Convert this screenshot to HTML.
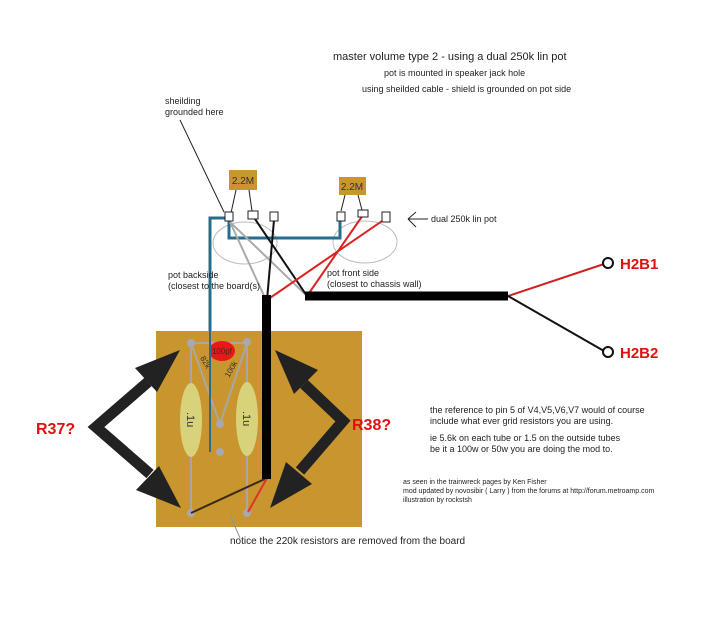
<!DOCTYPE html>
<html><head><style>
html,body{margin:0;padding:0;background:#fff;}
svg{display:block;font-family:"Liberation Sans",sans-serif;}
</style></head><body>
<svg width="714" height="624" viewBox="0 0 714 624" xmlns="http://www.w3.org/2000/svg">
<rect width="714" height="624" fill="#fff"/>
<text x="333" y="60" font-size="11" fill="#222">master volume type 2 - using a dual 250k lin pot</text>
<text x="384" y="76" font-size="9" fill="#222">pot is mounted in speaker jack hole</text>
<text x="362" y="92" font-size="9" fill="#222">using sheilded cable - shield is grounded on pot side</text>
<text x="165" y="104" font-size="9" fill="#222">sheilding</text>
<text x="165" y="115" font-size="9" fill="#222">grounded here</text>
<line x1="180" y1="120" x2="224" y2="212" stroke="#222" stroke-width="1"/>
<ellipse cx="245" cy="243" rx="32" ry="21" fill="none" stroke="#bbb" stroke-width="1"/>
<ellipse cx="365" cy="242" rx="32" ry="21" fill="none" stroke="#bbb" stroke-width="1"/>
<rect x="229" y="170" width="28" height="20" fill="#c9952f"/>
<text x="243" y="184" font-size="10" fill="#333" text-anchor="middle">2.2M</text>
<rect x="339" y="177" width="27" height="18" fill="#c9952f"/>
<text x="352" y="190" font-size="10" fill="#333" text-anchor="middle">2.2M</text>
<line x1="236" y1="190" x2="231" y2="213" stroke="#222"/>
<line x1="249" y1="190" x2="252" y2="211" stroke="#222"/>
<line x1="345" y1="195" x2="341" y2="211" stroke="#222"/>
<line x1="358" y1="195" x2="362" y2="210" stroke="#222"/>
<polyline points="210,452 210,218 229,218" fill="none" stroke="#2a6b8a" stroke-width="3"/>
<polyline points="229,219 229,238 340,238 340,220" fill="none" stroke="#2a6b8a" stroke-width="3"/>
<line x1="210" y1="452" x2="220" y2="452" stroke="#2a6b8a" stroke-width="2"/>
<line x1="230" y1="222" x2="307" y2="296" stroke="#aaa" stroke-width="2"/>
<line x1="230" y1="222" x2="266" y2="300" stroke="#aaa" stroke-width="2"/>
<line x1="253" y1="216" x2="307" y2="296" stroke="#111" stroke-width="2"/>
<line x1="274" y1="220" x2="267" y2="300" stroke="#111" stroke-width="2"/>
<line x1="363" y1="215" x2="307" y2="296" stroke="#d22" stroke-width="2"/>
<line x1="385" y1="219" x2="267" y2="300" stroke="#d22" stroke-width="2"/>
<g fill="#fff" stroke="#222" stroke-width="1">
<rect x="225" y="212" width="8" height="9"/><rect x="248" y="211" width="10" height="8"/><rect x="270" y="212" width="8" height="9"/>
<rect x="337" y="212" width="8" height="9"/><rect x="358" y="210" width="10" height="7"/><rect x="382" y="212" width="8" height="10"/>
</g>
<line x1="408" y1="219" x2="428" y2="219" stroke="#222"/>
<line x1="408" y1="219" x2="416" y2="212" stroke="#222"/>
<line x1="408" y1="219" x2="416" y2="227" stroke="#222"/>
<text x="431" y="222" font-size="9" fill="#222">dual 250k lin pot</text>
<text x="168" y="278" font-size="9" fill="#222">pot backside</text>
<text x="168" y="289" font-size="9" fill="#222">(closest to the board(s)</text>
<text x="327" y="276" font-size="9" fill="#222">pot front side</text>
<text x="327" y="287" font-size="9" fill="#222">(closest to chassis wall)</text>
<rect x="156" y="331" width="206" height="196" fill="#c9952f"/>
<line x1="191" y1="343" x2="191" y2="513" stroke="#a8a8a0" stroke-width="2"/>
<line x1="247" y1="343" x2="247" y2="513" stroke="#a8a8a0" stroke-width="2"/>
<line x1="191" y1="343" x2="220" y2="424" stroke="#a8a8a0" stroke-width="2"/>
<line x1="247" y1="343" x2="220" y2="424" stroke="#a8a8a0" stroke-width="2"/>
<line x1="191" y1="343" x2="247" y2="343" stroke="#a8a8a0" stroke-width="2"/>
<ellipse cx="191" cy="420" rx="11" ry="37" fill="#d8d27a"/>
<ellipse cx="247" cy="419" rx="11" ry="37" fill="#d8d27a"/>
<text x="0" y="0" font-size="11" fill="#333" transform="translate(187,412) rotate(90)">.1u</text>
<text x="0" y="0" font-size="11" fill="#333" transform="translate(243,411) rotate(90)">.1u</text>
<ellipse cx="222" cy="351" rx="13" ry="10" fill="#e81818"/>
<text x="222" y="354" font-size="8" fill="#522" text-anchor="middle">100pf</text>
<text x="0" y="0" font-size="8" fill="#333" transform="translate(200,358) rotate(60)">82k</text>
<text x="0" y="0" font-size="8" fill="#333" transform="translate(229,378) rotate(-60)">100k</text>
<line x1="210" y1="322" x2="210" y2="452" stroke="#2a6b8a" stroke-width="2"/>
<g fill="#a8a8b0"><circle cx="191" cy="343" r="4"/><circle cx="247" cy="342" r="4"/><circle cx="220" cy="424" r="4"/><circle cx="220" cy="452" r="4"/><circle cx="191" cy="513" r="4"/><circle cx="247" cy="513" r="4"/></g>
<line x1="191" y1="513" x2="267" y2="478" stroke="#3a2a10" stroke-width="2"/>
<line x1="248" y1="512" x2="267" y2="478" stroke="#d33" stroke-width="2"/>
<rect x="262" y="295" width="9" height="184" fill="#000"/>
<line x1="305" y1="296" x2="508" y2="296" stroke="#000" stroke-width="9"/>
<line x1="508" y1="296" x2="604" y2="264" stroke="#c22" stroke-width="2"/>
<line x1="508" y1="296" x2="604" y2="351" stroke="#111" stroke-width="2"/>
<circle cx="608" cy="263" r="5" fill="#fff" stroke="#111" stroke-width="2"/>
<circle cx="608" cy="352" r="5" fill="#fff" stroke="#111" stroke-width="2"/>
<text x="620" y="269" font-size="15" font-weight="bold" fill="#e01010">H2B1</text>
<text x="620" y="358" font-size="15" font-weight="bold" fill="#e01010">H2B2</text>
<g stroke="#222" stroke-width="11" fill="none" stroke-linejoin="miter">
<polyline points="148,382 96,427 150,474"/>
<polyline points="304,384 343,421 300,471"/>
</g>
<g fill="#222">
<polygon points="180,350 157,392 135,368"/>
<polygon points="181,508 159,466 136,490"/>
<polygon points="275,350 318,370 294,394"/>
<polygon points="270,508 312,484 286,462"/>
</g>
<text x="36" y="434" font-size="16" font-weight="bold" fill="#e01010">R37?</text>
<text x="352" y="430" font-size="16" font-weight="bold" fill="#e01010">R38?</text>
<text x="430" y="413" font-size="9" fill="#222">the reference to pin 5 of V4,V5,V6,V7 would of course</text>
<text x="430" y="424" font-size="9" fill="#222">include what ever grid resistors you are using.</text>
<text x="430" y="441" font-size="9" fill="#222">ie 5.6k on each tube or 1.5 on the outside tubes</text>
<text x="430" y="452" font-size="9" fill="#222">be it a 100w or 50w you are doing the mod to.</text>
<text x="403" y="484" font-size="7" fill="#222">as seen in the trainwreck pages by Ken Fisher</text>
<text x="403" y="493" font-size="7" fill="#222">mod updated by novosibir ( Larry ) from the forums at http://forum.metroamp.com</text>
<text x="403" y="502" font-size="7" fill="#222">illustration by rockstsh</text>
<line x1="240" y1="538" x2="230" y2="515" stroke="#8a9a8a" stroke-width="1"/>
<text x="230" y="544" font-size="10" fill="#222">notice the 220k resistors are removed from the board</text>
</svg>
</body></html>
